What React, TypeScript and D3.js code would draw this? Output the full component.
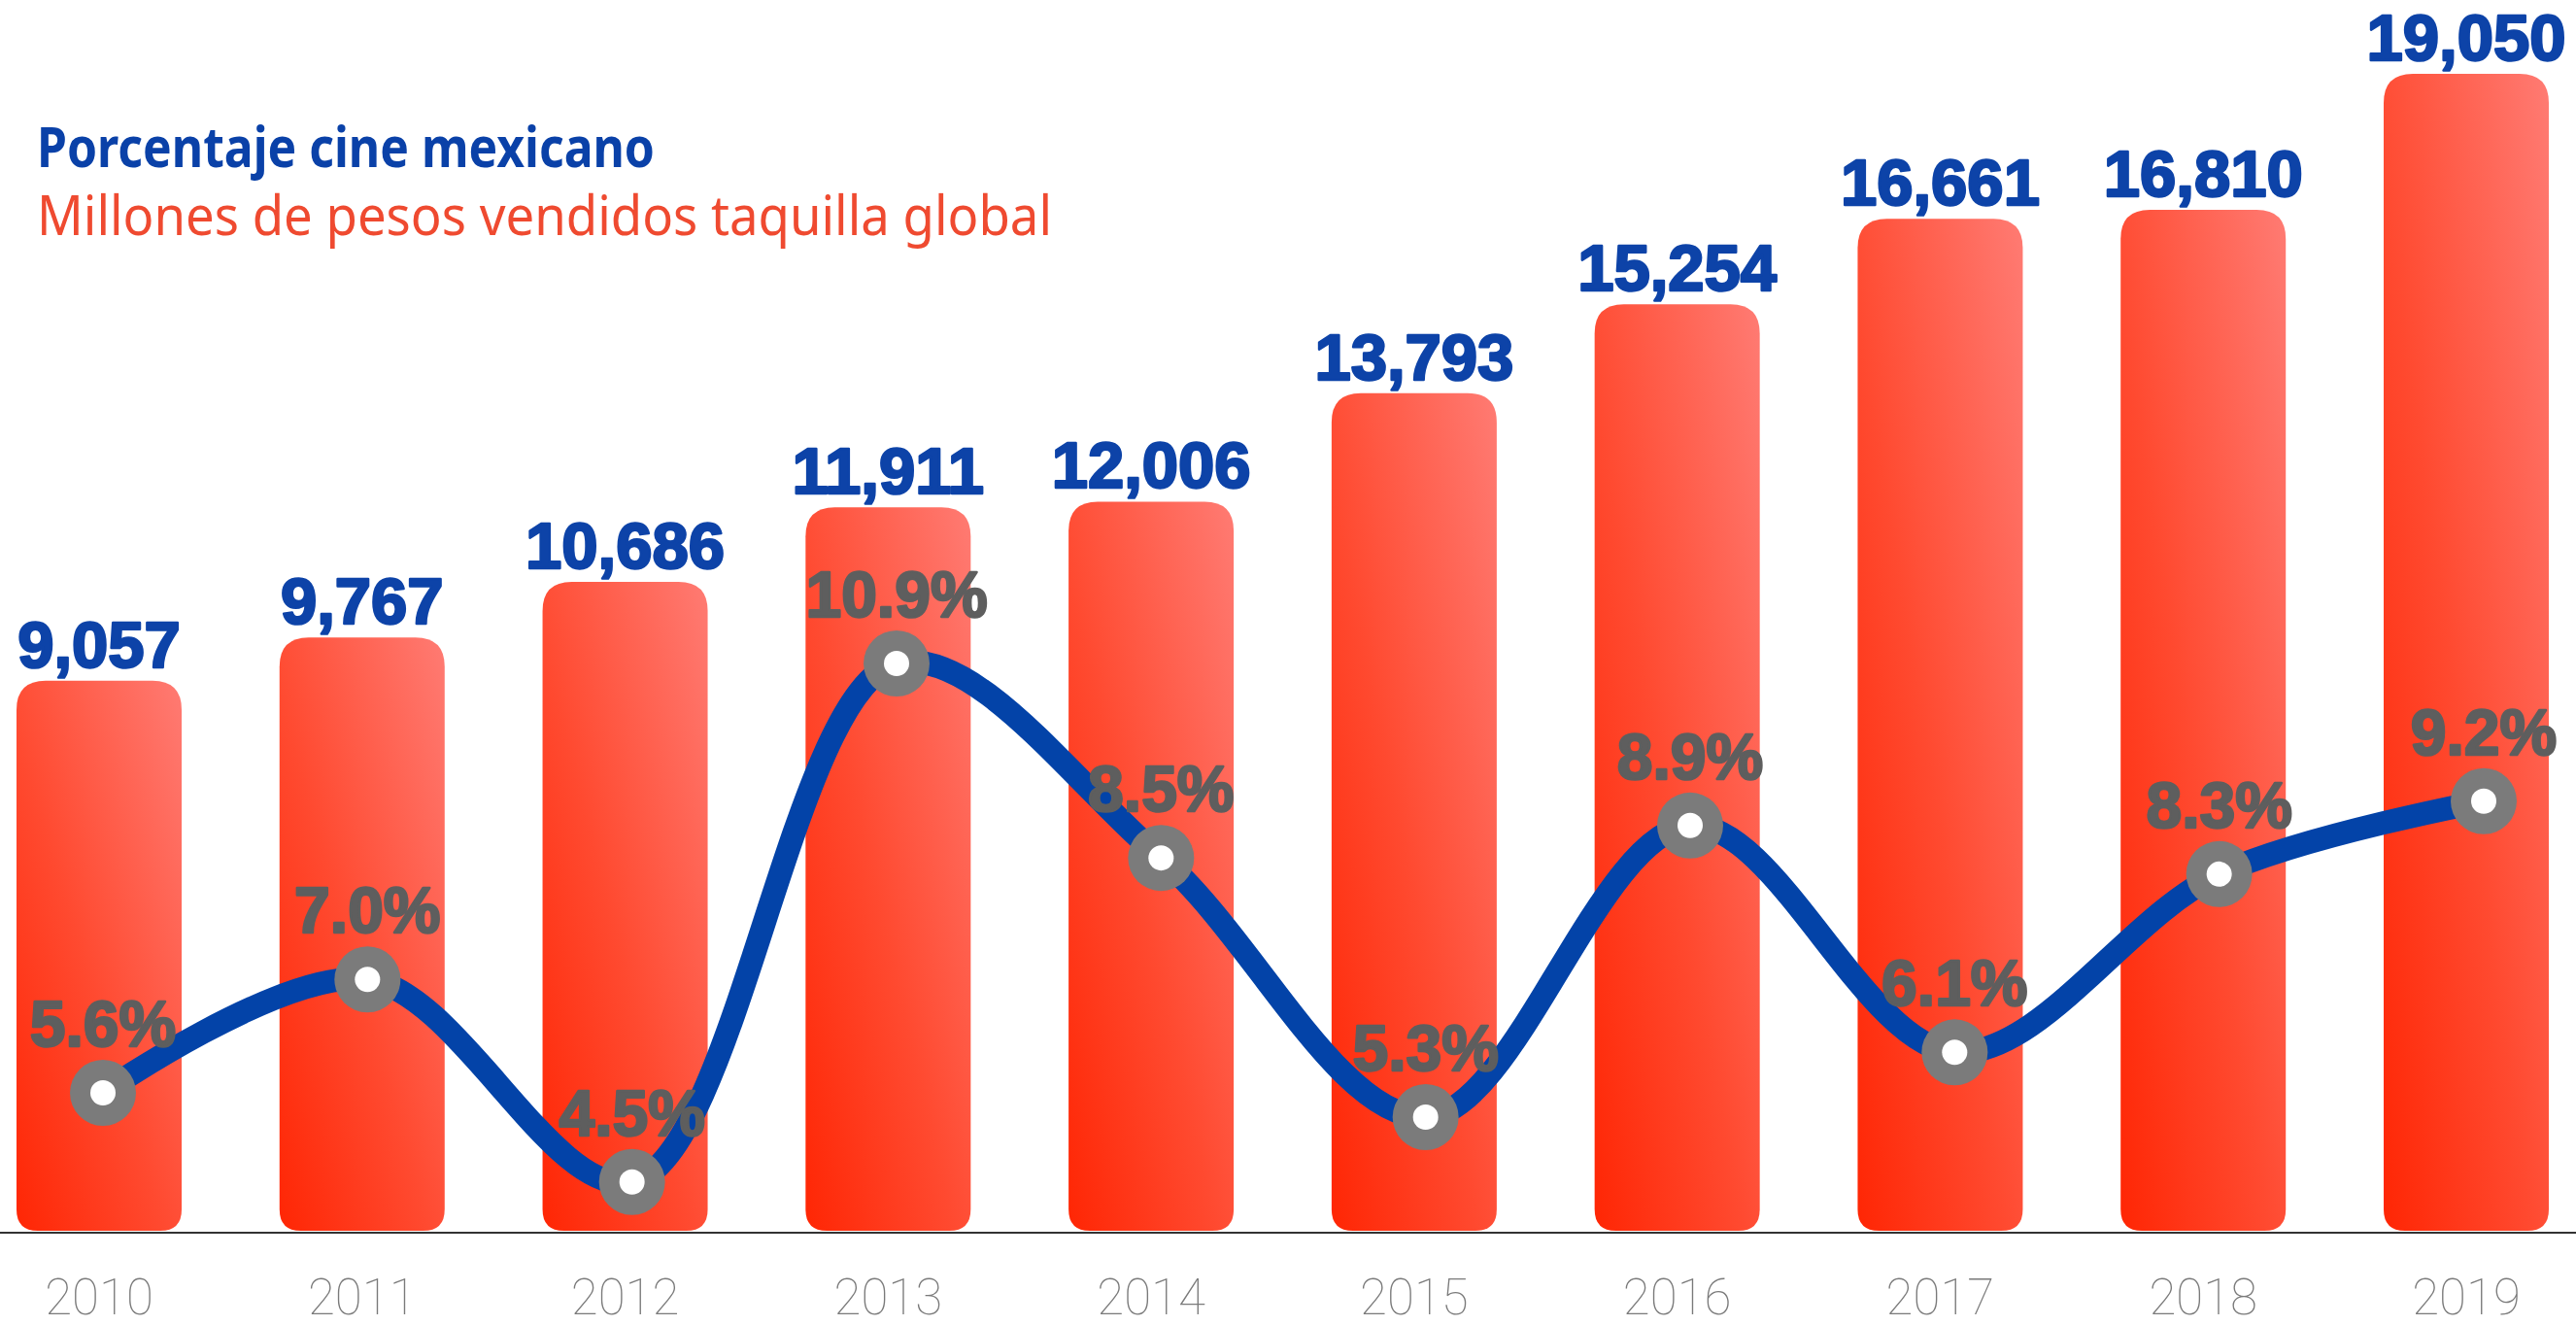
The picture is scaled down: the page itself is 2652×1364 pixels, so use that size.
import React from "react";
import * as d3 from "d3";

const years = ["2010", "2011", "2012", "2013", "2014", "2015", "2016", "2017", "2018", "2019"];
const boxOffice = [9057, 9767, 10686, 11911, 12006, 13793, 15254, 16661, 16810, 19050];
const mexicanShare = [5.6, 7.0, 4.5, 10.9, 8.5, 5.3, 8.9, 6.1, 8.3, 9.2];
const legendLabels = ["Porcentaje cine mexicano", "Millones de pesos vendidos taquilla global"];

const W = 2652;
const H = 1364;

export default function App() {
  const xBar = d3.scalePoint<string>().domain(years).range([102, 2539]);
  const xLine = d3.scalePoint<string>().domain(years).range([106, 2557]);
  const yBar = d3.scaleLinear().domain([0, 19050]).range([1267, 76]);
  const yPct = d3.scaleLinear().domain([0, 10.9]).range([1592, 683]);
  const barW = 170;
  const rTop = 30;
  const rBot = 22;
  const fmt = d3.format(",");

  const barPath = (cx: number, top: number, bottom: number) => {
    const p = d3.path();
    const l = cx - barW / 2;
    const r = cx + barW / 2;
    p.moveTo(l, top + rTop);
    p.quadraticCurveTo(l, top, l + rTop, top);
    p.lineTo(r - rTop, top);
    p.quadraticCurveTo(r, top, r, top + rTop);
    p.lineTo(r, bottom - rBot);
    p.quadraticCurveTo(r, bottom, r - rBot, bottom);
    p.lineTo(l + rBot, bottom);
    p.quadraticCurveTo(l, bottom, l, bottom - rBot);
    p.closePath();
    return p.toString();
  };

  const pts = years.map((y, i) => [xLine(y) as number, yPct(mexicanShare[i])] as [number, number]);
  const line = d3.line().curve(d3.curveCatmullRom.alpha(0.5))(pts) || "";

  return (
    <svg
      width={W}
      height={H}
      viewBox={`0 0 ${W} ${H}`}
      style={{ position: "absolute", left: 0, top: 0, display: "block", background: "#fff" }}
    >
      <defs>
        <linearGradient id="barGrad" x1="0" y1="1" x2="1" y2="0">
          <stop offset="0" stopColor="#ff2604" />
          <stop offset="0.45" stopColor="#ff4a30" />
          <stop offset="1" stopColor="#ff7b73" />
        </linearGradient>
      </defs>

      {/* legend */}
      <text
        x={38}
        y={172}
        fontFamily="'Noto Sans', 'Open Sans', sans-serif"
        fontWeight={700}
        fontSize={57}
        fill="#0a41a8"
        textLength={636}
        lengthAdjust="spacingAndGlyphs"
      >
        {legendLabels[0]}
      </text>
      <text
        x={38}
        y={242}
        fontFamily="'Noto Sans', 'Open Sans', sans-serif"
        fontWeight={400}
        fontSize={57}
        fill="#ef4a30"
        textLength={1045}
        lengthAdjust="spacingAndGlyphs"
      >
        {legendLabels[1]}
      </text>

      {/* bars */}
      {years.map((y, i) => (
        <path key={"b" + y} d={barPath(xBar(y) as number, yBar(boxOffice[i]), yBar(0))} fill="url(#barGrad)" />
      ))}

      {/* axis */}
      <line x1={0} x2={W} y1={1269} y2={1269} stroke="#333" strokeWidth={2} />

      {/* year labels */}
      {years.map((y) => (
        <text
          key={"y" + y}
          x={xBar(y) as number}
          y={1353}
          textAnchor="middle"
          fontFamily="Roboto, Lato, sans-serif"
          fontWeight={100}
          fontSize={51}
          fill="#7a7a7a"
        >
          {y}
        </text>
      ))}

      {/* value labels */}
      {years.map((y, i) => (
        <text
          key={"v" + y}
          x={xBar(y) as number}
          y={yBar(boxOffice[i]) - 14}
          textAnchor="middle"
          fontFamily="'Liberation Sans', Arial, sans-serif"
          fontWeight={700}
          fontSize={67}
          fill="#0d43a8"
          stroke="#0d43a8"
          strokeWidth={2.5}
          strokeLinejoin="round"
        >
          {fmt(boxOffice[i])}
        </text>
      ))}

      {/* line */}
      <path d={line} fill="none" stroke="#0343a8" strokeWidth={24} strokeLinecap="round" />

      {/* markers */}
      {pts.map(([px, py], i) => (
        <g key={"m" + i}>
          <circle cx={px} cy={py} r={34} fill="#7b7b7b" />
          <circle cx={px} cy={py} r={13} fill="#fff" />
        </g>
      ))}

      {/* percent labels */}
      {pts.map(([px, py], i) => (
        <text
          key={"p" + i}
          x={px}
          y={py - 48}
          textAnchor="middle"
          fontFamily="'Liberation Sans', Arial, sans-serif"
          fontWeight={700}
          fontSize={66}
          fill="#5e5e5e"
          stroke="#5e5e5e"
          strokeWidth={2.5}
          strokeLinejoin="round"
        >
          {mexicanShare[i].toFixed(1) + "%"}
        </text>
      ))}
    </svg>
  );
}
